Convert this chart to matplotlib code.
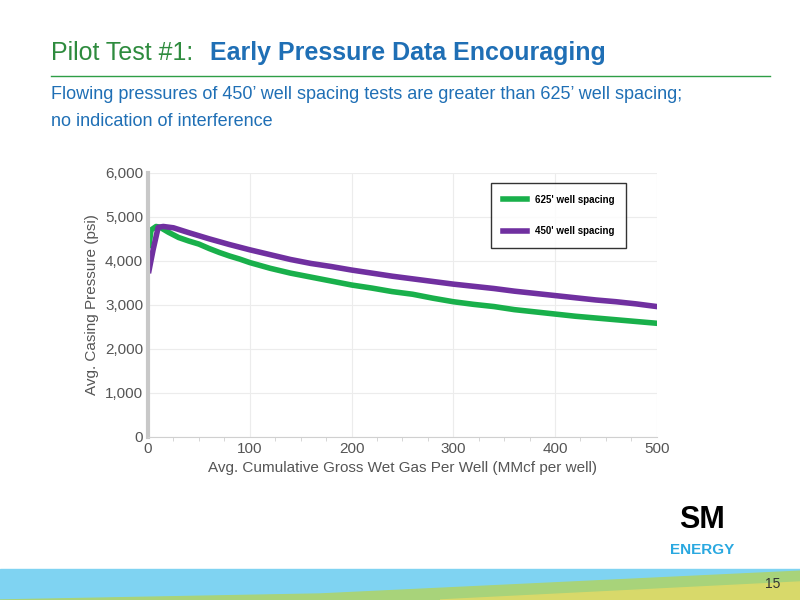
import matplotlib.pyplot as plt
from matplotlib.patches import Polygon, Rectangle

x625 = [1, 3, 8, 12, 20, 30, 40, 50, 60, 70, 80, 90, 100, 120, 140, 160, 180, 200, 220, 240,
        260, 280, 300, 320, 340, 360, 380, 400, 420, 440, 460, 480, 500]
y625 = [4350, 4700, 4780, 4760, 4650, 4530, 4450, 4380, 4280, 4190, 4110, 4040, 3960, 3830, 3720,
        3630, 3540, 3450, 3380, 3300, 3240, 3150, 3070, 3010, 2960, 2890, 2840, 2790, 2740, 2700,
        2660, 2620, 2580]
x450 = [1, 5, 10, 15, 25, 40, 60, 80, 100, 120, 140, 160, 180, 200, 220, 240, 260, 280, 300, 320,
        340, 360, 380, 400, 420, 440, 460, 480, 500]
y450 = [3780, 4250, 4760, 4780, 4750, 4640, 4500, 4370, 4250, 4140, 4030, 3940, 3870, 3790, 3720,
        3650, 3590, 3530, 3470, 3420, 3370, 3310, 3260, 3210, 3160, 3110, 3070, 3020, 2960]

fig = plt.figure(figsize=(8, 6), dpi=100)
plt.rcParams['font.family'] = ['Liberation Sans', 'DejaVu Sans']

# header
fig.text(0.064, 0.9, 'Pilot Test #1:', fontsize=18, color='#2e8b3e')
fig.text(0.262, 0.9, 'Early Pressure Data Encouraging', fontsize=18, color='#1f6fb5', fontweight='bold')
fig.add_artist(plt.Line2D([0.064, 0.962], [0.873, 0.873], color='#2e9e46', lw=1))
fig.text(0.064, 0.835, 'Flowing pressures of 450\u2019 well spacing tests are greater than 625\u2019 well spacing;',
         fontsize=13, color='#1f6fb5')
fig.text(0.064, 0.79, 'no indication of interference', fontsize=13, color='#1f6fb5')

# footer bands
fig.add_artist(Rectangle((0, 0), 1, 0.052, transform=fig.transFigure, color='#7fd3f2', zorder=0))
fig.add_artist(Polygon([[0, 0], [0.4, 0.01], [1, 0.048], [1, 0]], closed=True,
                       transform=fig.transFigure, color='#a8d37a', zorder=1))
fig.add_artist(Polygon([[0.55, 0], [1, 0.03], [1, 0]], closed=True,
                       transform=fig.transFigure, color='#d8d96a', zorder=2))
fig.text(0.975, 0.02, '15', fontsize=10, color='#333333', ha='right', zorder=3)
fig.text(0.878, 0.12, 'SM', fontsize=22, fontweight='bold', ha='center', color='black')
fig.text(0.878, 0.077, 'ENERGY', fontsize=11, fontweight='bold', ha='center', color='#29a8e0')

ax = fig.add_axes([0.185, 0.272, 0.636, 0.44])
ax.plot(x625, y625, color='#19b04b', lw=4, label="625' well spacing")
ax.plot(x450, y450, color='#7030a0', lw=4, label="450' well spacing")
ax.set_xlim(0, 500)
ax.set_ylim(0, 6000)
ax.set_xticks(range(0, 501, 100))
ax.set_xticks(range(0, 501, 25), minor=True)
ax.set_yticks(range(0, 6001, 1000))
ax.set_yticklabels(['{:,}'.format(v) for v in range(0, 6001, 1000)])
ax.grid(True, color='#ececec', lw=0.8)
ax.set_axisbelow(True)
for s in ['top', 'right']:
    ax.spines[s].set_visible(False)
ax.spines['left'].set_color('#c8c8c8')
ax.spines['left'].set_linewidth(3)
ax.spines['bottom'].set_color('#d0d0d0')
ax.tick_params(colors='#555555', labelsize=11, length=0)
ax.tick_params(axis='x', which='minor', length=3, color='#d0d0d0')
ax.set_xlabel('Avg. Cumulative Gross Wet Gas Per Well (MMcf per well)', fontsize=11, color='#555555')
ax.set_ylabel('Avg. Casing Pressure (psi)', fontsize=11, color='#555555')
leg = ax.legend(loc='upper right', bbox_to_anchor=(0.95, 0.98), fontsize=7, frameon=True,
                fancybox=False, handlelength=2.5, borderpad=1.2, labelspacing=2.2,
                prop={'weight': 'bold', 'size': 7})
leg.get_frame().set_edgecolor('black')
leg.get_frame().set_linewidth(1)

fig.savefig('out.png', dpi=100)
